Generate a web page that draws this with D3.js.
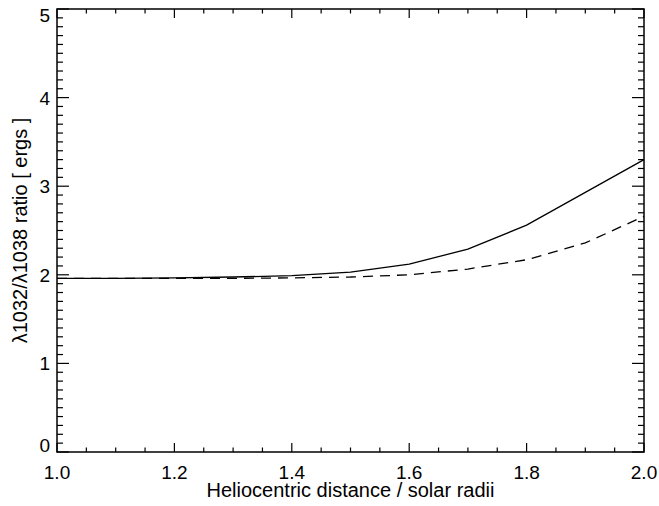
<!DOCTYPE html>
<html lang="en">
<head>
    <meta charset="UTF-8">
    <title>Line ratio vs heliocentric distance</title>
    <script src="https://d3js.org/d3.v7.min.js"></script>
    <style>
        body { margin: 0; background: #fff; }
        text { font-family: 'Liberation Sans', Arial, Helvetica, sans-serif; fill: #000; }
        .frame { fill: none; stroke: #000; stroke-width: 1.5; }
        .tick-line { stroke: #000; stroke-width: 1.2; }
    </style>
</head>
<body>
    <div id="chart"></div>
    <script>
        // heliocentric distance (solar radii)
        const distance = [1.0, 1.1, 1.2, 1.3, 1.4, 1.5, 1.6, 1.7, 1.8, 1.9, 2.0];
        // solid curve
        const ratioSolid = [1.96, 1.96, 1.965, 1.975, 1.99, 2.03, 2.12, 2.29, 2.56, 2.93, 3.30];
        // dashed curve
        const ratioDashed = [1.96, 1.96, 1.96, 1.96, 1.965, 1.975, 2.0, 2.065, 2.17, 2.36, 2.66];

        const xTicks = [1.0, 1.2, 1.4, 1.6, 1.8, 2.0];
        const yTicks = [0, 1, 2, 3, 4, 5];

        const width = 659, height = 506;
        const margin = { top: 9, right: 15, bottom: 54, left: 57 };

        const svg = d3.select('#chart').append('svg')
            .attr('width', width)
            .attr('height', height);

        const x = d3.scaleLinear().domain([1.0, 2.0]).range([margin.left, width - margin.right]);
        const y = d3.scaleLinear().domain([0, 5]).range([height - margin.bottom, margin.top]);

        const x0 = x.range()[0], x1 = x.range()[1];
        const y0 = y.range()[0], y1 = y.range()[1];

        // ticks on all four sides, pointing inward
        const xMinor = d3.range(0, 21).map(i => 1.0 + i * 0.05);
        const yMinor = d3.range(0, 51).map(i => i * 0.1);
        const ticks = svg.append('g');

        xMinor.forEach((v, i) => {
            const len = i % 4 === 0 ? 9 : 4.5;
            ticks.append('line').attr('class', 'tick-line')
                .attr('x1', x(v)).attr('x2', x(v)).attr('y1', y0).attr('y2', y0 - len);
            ticks.append('line').attr('class', 'tick-line')
                .attr('x1', x(v)).attr('x2', x(v)).attr('y1', y1).attr('y2', y1 + len);
        });
        yMinor.forEach((v, i) => {
            const len = i % 10 === 0 ? 12 : 6;
            ticks.append('line').attr('class', 'tick-line')
                .attr('y1', y(v)).attr('y2', y(v)).attr('x1', x0).attr('x2', x0 + len);
            ticks.append('line').attr('class', 'tick-line')
                .attr('y1', y(v)).attr('y2', y(v)).attr('x1', x1).attr('x2', x1 - len);
        });

        svg.append('rect').attr('class', 'frame')
            .attr('x', x0).attr('y', y1)
            .attr('width', x1 - x0).attr('height', y0 - y1);

        // tick labels
        svg.append('g').selectAll('text')
            .data(xTicks)
            .join('text')
            .attr('x', d => x(d))
            .attr('y', y0 + 27)
            .attr('text-anchor', 'middle')
            .attr('font-size', 19)
            .text(d => d.toFixed(1));

        svg.append('g').selectAll('text')
            .data(yTicks)
            .join('text')
            .attr('x', x0 - 7)
            .attr('y', d => {
                // keep end labels inside the frame height
                const c = y(d) + 7;
                return Math.min(Math.max(c, y1 + 13), y0);
            })
            .attr('text-anchor', 'end')
            .attr('font-size', 19)
            .text(d => d);

        // curves
        const line = d3.line()
            .x((d, i) => x(distance[i]))
            .y(d => y(d));

        svg.append('path')
            .datum(ratioSolid)
            .attr('fill', 'none')
            .attr('stroke', '#000')
            .attr('stroke-width', 1.3)
            .attr('d', line);

        svg.append('path')
            .datum(ratioDashed)
            .attr('fill', 'none')
            .attr('stroke', '#000')
            .attr('stroke-width', 1.3)
            .attr('stroke-dasharray', '10,7')
            .attr('d', line);

        // axis titles
        svg.append('text')
            .attr('x', (x0 + x1) / 2)
            .attr('y', y0 + 45)
            .attr('text-anchor', 'middle')
            .attr('font-size', 20)
            .text('Heliocentric distance / solar radii');

        svg.append('text')
            .attr('transform', `translate(27,${(y0 + y1) / 2}) rotate(-90)`)
            .attr('text-anchor', 'middle')
            .attr('font-size', 20)
            .text('λ1032/λ1038 ratio [ ergs ]');
    </script>
</body>
</html>
